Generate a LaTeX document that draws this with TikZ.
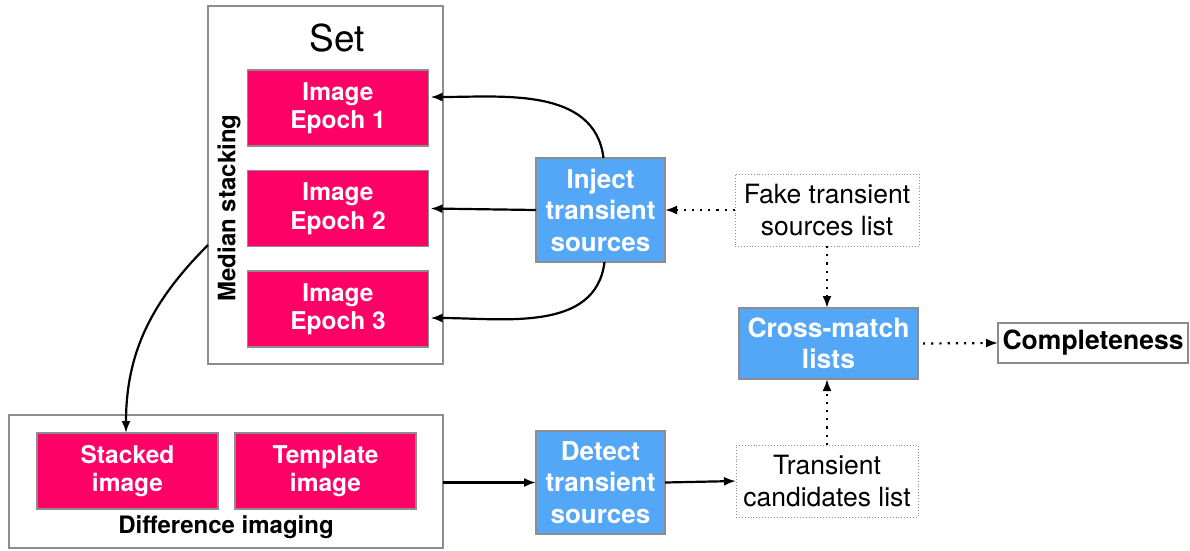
\documentclass[tikz,border=0pt]{standalone}
\usepackage{fontspec}
\setmainfont{TeX Gyre Heros}
\usetikzlibrary{arrows.meta}
\definecolor{pinkbox}{RGB}{255,0,102}
\definecolor{bluebox}{RGB}{84,167,247}
\definecolor{frame}{RGB}{140,140,145}
\begin{document}
\begin{tikzpicture}[x=1pt,y=-1pt,
  every node/.style={inner sep=0pt,outer sep=0pt},
  pinkstyle/.style={draw=frame,line width=1.3pt,fill=pinkbox,text=white,align=center,
     minimum width=181pt,minimum height=76pt,font=\fontsize{24.5}{28.5}\selectfont\bfseries},
  bluestyle/.style={draw=frame,line width=1.3pt,fill=bluebox,text=white,align=center,
     minimum width=129pt,minimum height=104pt,font=\fontsize{26}{31.5}\selectfont\bfseries},
  groupbox/.style={draw=frame,line width=1.3pt,fill=white},
  listbox/.style={draw=frame,dotted,line width=0.9pt,align=center,
     minimum width=182pt,minimum height=72pt,font=\fontsize{26.5}{32}\selectfont},
  solidarrow/.style={line width=2.2pt,-{Latex[length=12pt,width=9pt]}},
  dotarrow/.style={line width=2.2pt,dash pattern=on 2.2pt off 6pt,-{Latex[length=12pt,width=9pt]}},
]
\useasboundingbox (0,0) rectangle (1190,550);
% groups
\node[groupbox,minimum width=235pt,minimum height=358pt] (set) at (325.5,185) {};
\node[font=\fontsize{37}{40}\selectfont] (setlabel) at (337,38) {Set};
\node[rotate=90,font=\fontsize{24}{28}\selectfont\bfseries] (median) at (229,208) {Median stacking};
\node[pinkstyle] (e1) at (338,108) {Image\\Epoch 1};
\node[pinkstyle] (e2) at (338,208.5) {Image\\Epoch 2};
\node[pinkstyle] (e3) at (338,309) {Image\\Epoch 3};

\node[groupbox,minimum width=434pt,minimum height=133pt] (diff) at (226,481.5) {};
\node[pinkstyle] (stacked) at (127.5,471) {Stacked\\image};
\node[pinkstyle] (template) at (325.5,471) {Template\\image};
\node[font=\fontsize{24}{28}\selectfont\bfseries] (difflabel) at (226,527) {Difference imaging};

% blue boxes
\node[bluestyle] (inject) at (600.5,210) {Inject\\transient\\sources};
\node[bluestyle,minimum height=103pt] (detect) at (600.5,482.5) {Detect\\transient\\sources};
\node[bluestyle,minimum width=179pt,minimum height=71pt,font=\fontsize{26.5}{31}\selectfont\bfseries] (cross) at (828.5,343.5) {Cross-match\\lists};

% lists
\node[listbox,minimum width=184pt] (fake) at (827,210) {Fake transient\\sources list};
\node[listbox] (cand) at (827,481) {Transient\\candidates list};
\node[draw=frame,line width=1.3pt,minimum width=190pt,minimum height=40pt,
      font=\fontsize{26.5}{30}\selectfont\bfseries] (compl) at (1093,343) {Completeness};

% connectors
\draw[solidarrow] ([xshift=3pt]inject.north) to[out=97,in=0] ([xshift=2pt,yshift=11pt]e1.east);
\draw[solidarrow] (inject.west) -- ([xshift=2pt]e2.east);
\draw[solidarrow] ([xshift=4pt]inject.south) to[out=-97,in=0] ([xshift=2pt,yshift=-9pt]e3.east);
\draw[solidarrow] (set.west |- 0,245) to[out=225,in=90] ([xshift=-1.5pt]stacked.north);
\draw[solidarrow] (diff.east |- detect.west) -- (detect.west);
\draw[solidarrow] (detect.east) -- (cand.west);
\draw[dotarrow] (fake.west) -- (inject.east);
\draw[dotarrow] (fake.south) -- (cross.north -| fake.south);
\draw[dotarrow] (cand.north) -- (cross.south -| cand.north);
\draw[dotarrow] ([xshift=5pt]cross.east) -- (compl.west);
\end{tikzpicture}
\end{document}
